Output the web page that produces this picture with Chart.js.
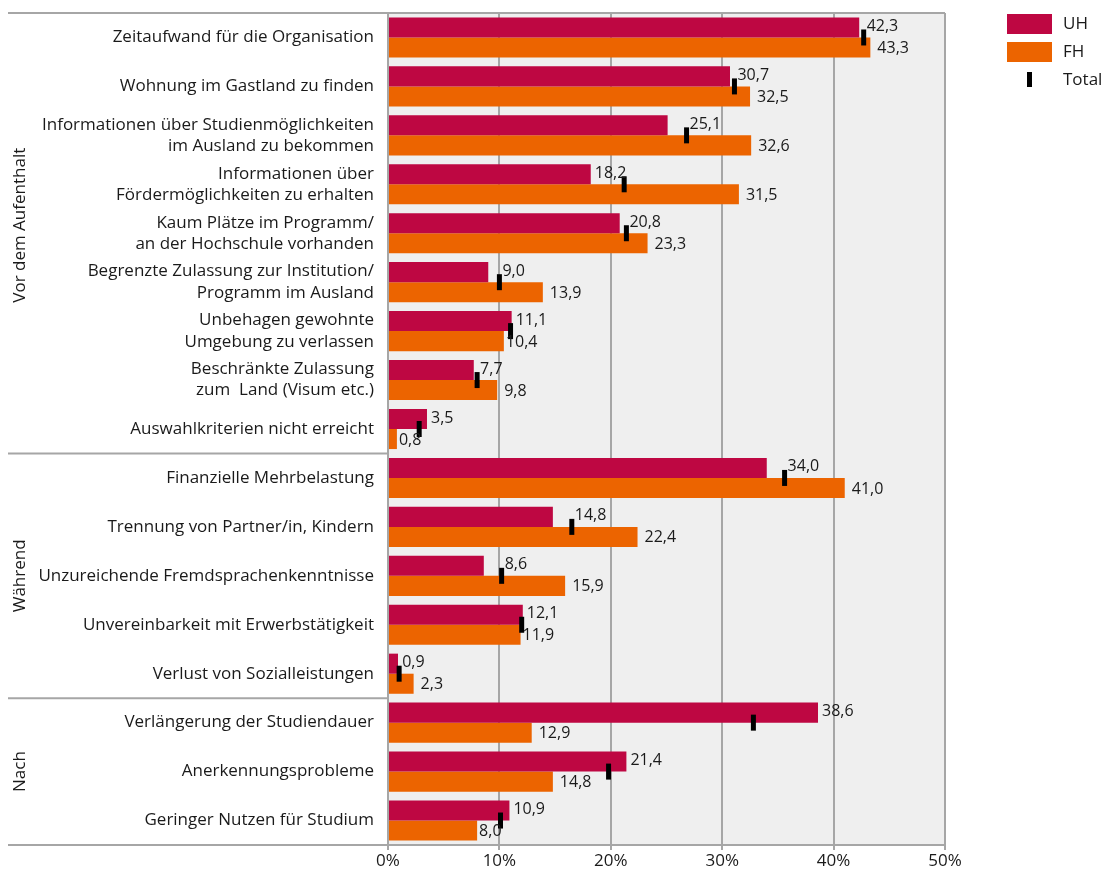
<!DOCTYPE html>
<html>
<head>
<meta charset="utf-8">
<script src="https://cdn.jsdelivr.net/npm/chart.js@4.4.0/dist/chart.umd.min.js"></script>
<style>
  body { margin: 0; background: #fff; }
</style>
</head>
<body>
<canvas id="hindernisChart" width="1102" height="873"></canvas>
<script>
// Hindernisse bei Auslandsaufenthalten, Anteile in %
const categories = [
    'Zeitaufwand für die Organisation',
    'Wohnung im Gastland zu finden',
    ['Informationen über Studienmöglichkeiten', 'im Ausland zu bekommen'],
    ['Informationen über', 'Fördermöglichkeiten zu erhalten'],
    ['Kaum Plätze im Programm/', 'an der Hochschule vorhanden'],
    ['Begrenzte Zulassung zur Institution/', 'Programm im Ausland'],
    ['Unbehagen gewohnte', 'Umgebung zu verlassen'],
    ['Beschränkte Zulassung', 'zum  Land (Visum etc.)'],
    'Auswahlkriterien nicht erreicht',
    'Finanzielle Mehrbelastung',
    'Trennung von Partner/in, Kindern',
    'Unzureichende Fremdsprachenkenntnisse',
    'Unvereinbarkeit mit Erwerbstätigkeit',
    'Verlust von Sozialleistungen',
    'Verlängerung der Studiendauer',
    'Anerkennungsprobleme',
    'Geringer Nutzen für Studium'
];
const uhValues = [42.3, 30.7, 25.1, 18.2, 20.8, 9.0, 11.1, 7.7, 3.5, 34.0, 14.8, 8.6, 12.1, 0.9, 38.6, 21.4, 10.9];
const fhValues = [43.3, 32.5, 32.6, 31.5, 23.3, 13.9, 10.4, 9.8, 0.8, 41.0, 22.4, 15.9, 11.9, 2.3, 12.9, 14.8, 8.0];
const totalValues = [42.7, 31.1, 26.8, 21.2, 21.4, 10.0, 11.0, 8.0, 2.8, 35.6, 16.5, 10.2, 12.0, 1.0, 32.8, 19.8, 10.1];

const groupNames = ['Vor dem Aufenthalt', 'Während', 'Nach'];
const groupFirst = [0, 9, 14];
const groupLast = [8, 13, 16];

const xTicks = [0, 10, 20, 30, 40, 50];

const FONT = '"Open Sans", "Noto Sans", sans-serif';
const UH_COLOR = '#be0742';
const FH_COLOR = '#ec6400';
const LINE_GRAY = '#a6a6a6';

function fmt(v) {
    return v.toFixed(1).replace('.', ',');
}

// grauer Hintergrund + Rahmenlinien links
const frame = {
    id: 'frame',
    beforeDraw(chart) {
        const { ctx, chartArea: a } = chart;
        ctx.save();
        ctx.fillStyle = '#efefef';
        ctx.fillRect(a.left, a.top, a.right - a.left, a.bottom - a.top);
        ctx.restore();
    },
    afterDraw(chart) {
        const { ctx, chartArea: a } = chart;
        const y = chart.scales.y;
        ctx.save();
        ctx.strokeStyle = LINE_GRAY;
        ctx.lineWidth = 2;
        ctx.beginPath();
        ctx.moveTo(8, a.top); ctx.lineTo(a.right, a.top);
        ctx.moveTo(8, a.bottom); ctx.lineTo(a.left, a.bottom);
        // Trennlinien zwischen Gruppen
        for (let g = 1; g < groupFirst.length; g++) {
            const py = (y.getPixelForValue(groupFirst[g] - 1) + y.getPixelForValue(groupFirst[g])) / 2;
            ctx.moveTo(8, py); ctx.lineTo(a.left, py);
        }
        ctx.stroke();

        // Gruppentitel senkrecht
        ctx.fillStyle = '#1a1a1a';
        ctx.font = '17px ' + FONT;
        ctx.textAlign = 'center';
        ctx.textBaseline = 'middle';
        groupNames.forEach((name, g) => {
            const cy = (y.getPixelForValue(groupFirst[g]) + y.getPixelForValue(groupLast[g])) / 2;
            ctx.save();
            ctx.translate(20, cy - (g === 0 ? 8 : 0));
            ctx.rotate(-Math.PI / 2);
            ctx.fillText(name, 0, 0);
            ctx.restore();
        });
        ctx.restore();
    }
};

// Wertebeschriftungen an den Balken
const valueLabels = {
    id: 'valueLabels',
    afterDatasetsDraw(chart) {
        const { ctx } = chart;
        const uhMeta = chart.getDatasetMeta(0);
        const fhMeta = chart.getDatasetMeta(1);
        const totMeta = chart.getDatasetMeta(2);
        ctx.save();
        ctx.font = '16px ' + FONT;
        ctx.fillStyle = '#1a1a1a';
        ctx.textBaseline = 'middle';
        ctx.textAlign = 'left';
        categories.forEach((c, i) => {
            const mx = totMeta.data[i].x;
            const u = uhMeta.data[i];
            let ux = u.x + 4;
            if (mx > u.x && mx < u.x + 20) ux = mx + 3;
            ctx.fillText(fmt(uhValues[i]), ux, u.y - 1);
            const f = fhMeta.data[i];
            let fx = f.x + 7;
            if (mx > f.x - 5 && mx < f.x + 25) fx = f.x + 2;
            ctx.fillText(fmt(fhValues[i]), fx, f.y + 1);
        });
        ctx.restore();
    }
};

// Legende rechts oben
const sideLegend = {
    id: 'sideLegend',
    afterDraw(chart) {
        const { ctx } = chart;
        ctx.save();
        ctx.font = '17px ' + FONT;
        ctx.textBaseline = 'middle';
        ctx.fillStyle = UH_COLOR;
        ctx.fillRect(1007, 14, 45, 20);
        ctx.fillStyle = FH_COLOR;
        ctx.fillRect(1007, 42, 45, 20);
        ctx.fillStyle = '#000';
        ctx.fillRect(1027, 72, 5, 15);
        ctx.fillStyle = '#1a1a1a';
        ctx.fillText('UH', 1063, 24);
        ctx.fillText('FH', 1063, 52);
        ctx.fillText('Total', 1063, 80);
        ctx.restore();
    }
};

const ctx = document.getElementById('hindernisChart').getContext('2d');
new Chart(ctx, {
    type: 'bar',
    data: {
        labels: categories,
        datasets: [
            {
                label: 'UH',
                data: uhValues,
                backgroundColor: UH_COLOR,
                barPercentage: 1,
                categoryPercentage: 0.82,
                order: 1
            },
            {
                label: 'FH',
                data: fhValues,
                backgroundColor: FH_COLOR,
                barPercentage: 1,
                categoryPercentage: 0.82,
                order: 1
            },
            {
                type: 'line',
                label: 'Total',
                data: totalValues,
                showLine: false,
                pointStyle: 'line',
                rotation: 90,
                radius: 8,
                hoverRadius: 8,
                borderWidth: 5,
                borderColor: '#000',
                backgroundColor: '#000',
                order: 0
            }
        ]
    },
    options: {
        indexAxis: 'y',
        responsive: false,
        animation: false,
        layout: { padding: { top: 12, right: 157, left: 0, bottom: 0 } },
        plugins: {
            legend: { display: false },
            tooltip: { enabled: false }
        },
        scales: {
            x: {
                min: 0,
                max: 50,
                afterBuildTicks(scale) {
                    scale.ticks = xTicks.map(v => ({ value: v }));
                },
                afterFit(scale) { scale.height = 28; },
                grid: { color: LINE_GRAY, lineWidth: 2, tickLength: 5 },
                border: { color: LINE_GRAY, width: 2 },
                ticks: {
                    color: '#1a1a1a',
                    font: { family: FONT, size: 17 },
                    padding: 1,
                    maxRotation: 0,
                    callback: v => v + '%'
                }
            },
            y: {
                afterFit(scale) {
                    scale.width = 388;
                    scale.paddingTop = 0;
                    scale.paddingBottom = 0;
                },
                grid: { display: false },
                border: { color: LINE_GRAY, width: 2 },
                ticks: {
                    color: '#1a1a1a',
                    font: { family: FONT, size: 17, lineHeight: 1.24 },
                    padding: 6,
                    autoSkip: false
                }
            }
        }
    },
    plugins: [frame, valueLabels, sideLegend]
});
</script>
</body>
</html>
